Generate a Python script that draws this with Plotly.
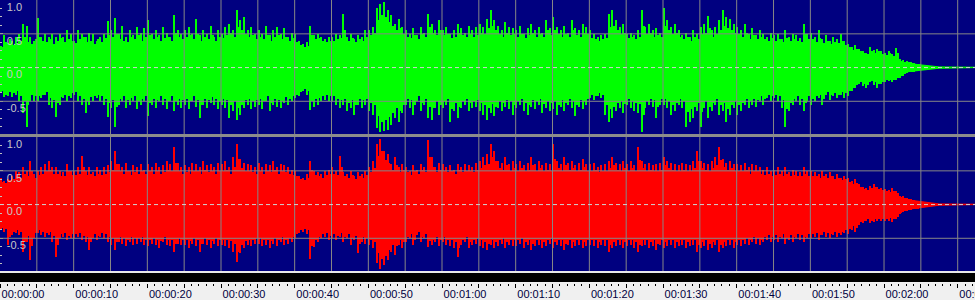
import numpy as np
import plotly.graph_objects as go

# ---------------- data ----------------
BIN_S = 0.5          # seconds per peak bin (each bin holds two spikes, A and B)
CORE_S = 5.0         # seconds per core (dense body) value
X_MAX_S = 132.35     # visible time span in seconds

# green (upper) channel: positive peaks, first half of each 0.5 s bin
G_POS = [
    0.32,0.48,0.36,0.40,0.45,0.50,0.65,0.62,0.45,0.40,
    0.74,0.45,0.50,0.45,0.50,0.45,0.50,0.45,0.56,0.50,
    0.40,0.55,0.50,0.45,0.52,0.50,0.40,0.45,0.50,0.69,
    0.55,0.74,0.50,0.62,0.45,0.55,0.48,0.60,0.52,0.58,
    0.70,0.50,0.55,0.48,0.60,0.52,0.45,0.78,0.55,0.50,
    0.55,0.60,0.50,0.72,0.48,0.55,0.50,0.62,0.45,0.55,
    0.50,0.60,0.65,0.55,0.85,0.70,0.75,0.55,0.60,0.50,
    0.55,0.50,0.62,0.48,0.55,0.60,0.50,0.58,0.45,0.52,
    0.50,0.40,0.35,0.38,0.62,0.48,0.50,0.45,0.42,0.45,
    0.45,0.50,0.48,0.79,0.45,0.50,0.42,0.48,0.45,0.55,
    0.55,0.60,0.88,0.94,0.97,0.85,0.78,0.65,0.72,0.60,
    0.55,0.50,0.58,0.48,0.60,0.52,0.80,0.65,0.55,0.70,
    0.55,0.60,0.50,0.55,0.65,0.58,0.52,0.62,0.55,0.60,
    0.65,0.60,0.72,0.85,0.70,0.62,0.55,0.68,0.60,0.58,
    0.55,0.62,0.50,0.58,0.65,0.55,0.60,0.52,0.70,0.58,
    0.75,0.60,0.55,0.62,0.52,0.70,0.58,0.55,0.65,0.60,
    0.55,0.50,0.45,0.48,0.50,0.80,0.85,0.70,0.60,0.65,
    0.50,0.52,0.48,0.55,0.86,0.60,0.65,0.55,0.58,0.52,
    0.88,0.70,0.60,0.65,0.55,0.48,0.52,0.45,0.55,0.50,
    0.60,0.65,0.76,0.55,0.60,0.70,0.86,0.75,0.72,0.65,
    0.60,0.55,0.65,0.50,0.58,0.48,0.55,0.50,0.45,0.52,
    0.48,0.50,0.42,0.55,0.45,0.50,0.48,0.44,0.65,0.50,
    0.52,0.45,0.55,0.42,0.48,0.40,0.45,0.42,0.50,0.40,
    0.35,0.30,0.34,0.28,0.25,0.22,0.30,0.26,0.28,0.24,
    0.22,0.25,0.20,0.29,0.12,0.11,0.10,0.08,0.07,0.06,
    0.04,0.03,0.02,0.01,0.005,0,0,0,0,0,
]
# green channel: positive peaks, second half of each bin
G_POS_B = [
    0.30,0.38,0.42,0.33,0.36,0.40,0.45,0.38,0.35,0.42,
    0.45,0.40,0.38,0.42,0.35,0.40,0.44,0.38,0.42,0.40,
    0.36,0.42,0.45,0.38,0.40,0.35,0.42,0.38,0.44,0.48,
    0.45,0.50,0.42,0.40,0.38,0.45,0.42,0.48,0.40,0.45,
    0.48,0.42,0.45,0.40,0.44,0.46,0.40,0.52,0.45,0.42,
    0.45,0.48,0.42,0.50,0.40,0.45,0.42,0.48,0.40,0.46,
    0.44,0.48,0.52,0.45,0.60,0.55,0.50,0.46,0.48,0.42,
    0.46,0.42,0.48,0.40,0.45,0.48,0.42,0.46,0.40,0.44,
    0.38,0.34,0.30,0.32,0.48,0.42,0.44,0.40,0.38,0.40,
    0.40,0.42,0.44,0.55,0.40,0.44,0.38,0.42,0.40,0.46,
    0.48,0.52,0.70,0.78,0.75,0.68,0.62,0.55,0.58,0.50,
    0.46,0.44,0.48,0.42,0.50,0.45,0.60,0.52,0.48,0.55,
    0.48,0.50,0.44,0.46,0.52,0.48,0.45,0.50,0.46,0.48,
    0.52,0.50,0.58,0.62,0.55,0.50,0.46,0.52,0.48,0.50,
    0.46,0.50,0.44,0.48,0.52,0.46,0.50,0.45,0.55,0.48,
    0.55,0.50,0.46,0.50,0.45,0.55,0.48,0.46,0.52,0.50,
    0.44,0.42,0.40,0.42,0.44,0.60,0.62,0.55,0.50,0.52,
    0.44,0.45,0.42,0.46,0.62,0.50,0.52,0.46,0.48,0.45,
    0.62,0.56,0.50,0.52,0.46,0.42,0.45,0.40,0.46,0.42,
    0.50,0.52,0.58,0.46,0.50,0.55,0.62,0.58,0.55,0.52,
    0.50,0.46,0.52,0.42,0.48,0.42,0.46,0.42,0.40,0.44,
    0.40,0.42,0.38,0.44,0.40,0.42,0.40,0.38,0.50,0.42,
    0.42,0.38,0.44,0.36,0.40,0.35,0.38,0.36,0.40,0.34,
    0.30,0.26,0.28,0.24,0.22,0.20,0.25,0.22,0.24,0.20,
    0.19,0.21,0.17,0.22,0.10,0.09,0.08,0.07,0.06,0.05,
    0.03,0.025,0.015,0.01,0.004,0,0,0,0,0,
]
# green channel: negative peaks (magnitude), first half of each bin
G_NEG = [
    0.38,0.44,0.42,0.44,0.40,0.50,0.68,0.88,0.50,0.49,
    0.50,0.45,0.40,0.55,0.60,0.73,0.55,0.45,0.50,0.45,
    0.40,0.50,0.55,0.68,0.55,0.50,0.45,0.50,0.55,0.73,
    0.60,0.88,0.55,0.50,0.60,0.55,0.50,0.62,0.55,0.50,
    0.72,0.55,0.60,0.50,0.55,0.62,0.50,0.65,0.55,0.60,
    0.55,0.62,0.50,0.58,0.75,0.55,0.60,0.52,0.55,0.62,
    0.55,0.60,0.75,0.65,0.78,0.70,0.60,0.55,0.62,0.58,
    0.55,0.62,0.50,0.65,0.55,0.58,0.60,0.52,0.55,0.50,
    0.45,0.42,0.35,0.40,0.63,0.58,0.55,0.50,0.48,0.50,
    0.50,0.55,0.60,0.55,0.65,0.60,0.70,0.55,0.60,0.55,
    0.65,0.70,0.90,0.95,0.94,0.92,0.85,0.75,0.80,0.68,
    0.55,0.60,0.70,0.50,0.65,0.55,0.75,0.78,0.60,0.70,
    0.60,0.55,0.80,0.65,0.75,0.60,0.55,0.65,0.60,0.58,
    0.65,0.70,0.78,0.68,0.72,0.60,0.65,0.58,0.62,0.70,
    0.60,0.55,0.65,0.70,0.58,0.62,0.55,0.68,0.60,0.65,
    0.62,0.70,0.58,0.65,0.55,0.60,0.72,0.58,0.62,0.55,
    0.45,0.48,0.42,0.45,0.70,0.80,0.75,0.65,0.60,0.68,
    0.55,0.60,0.65,0.68,0.95,0.60,0.55,0.58,0.75,0.55,
    0.55,0.60,0.70,0.65,0.55,0.60,0.88,0.80,0.75,0.65,
    0.88,0.60,0.75,0.65,0.55,0.70,0.65,0.80,0.70,0.60,
    0.70,0.65,0.55,0.60,0.55,0.58,0.50,0.55,0.45,0.50,
    0.45,0.50,0.60,0.88,0.65,0.55,0.50,0.55,0.65,0.50,
    0.55,0.50,0.45,0.55,0.40,0.48,0.42,0.45,0.40,0.45,
    0.42,0.35,0.30,0.25,0.28,0.30,0.22,0.26,0.30,0.24,
    0.22,0.20,0.22,0.18,0.16,0.12,0.08,0.07,0.06,0.05,
    0.04,0.03,0.02,0.01,0.005,0,0,0,0,0,
]
# green channel: negative peaks, second half of each bin
G_NEG_B = [
    0.34,0.40,0.36,0.38,0.35,0.42,0.50,0.55,0.40,0.42,
    0.42,0.40,0.36,0.45,0.48,0.52,0.44,0.40,0.42,0.38,
    0.36,0.42,0.46,0.50,0.44,0.42,0.40,0.42,0.46,0.52,
    0.48,0.58,0.46,0.42,0.48,0.45,0.42,0.50,0.46,0.42,
    0.52,0.46,0.48,0.42,0.46,0.50,0.42,0.50,0.46,0.48,
    0.46,0.50,0.42,0.48,0.55,0.46,0.48,0.44,0.46,0.50,
    0.46,0.48,0.56,0.50,0.60,0.55,0.48,0.46,0.50,0.48,
    0.46,0.50,0.42,0.52,0.46,0.48,0.50,0.44,0.46,0.42,
    0.40,0.36,0.32,0.35,0.50,0.46,0.45,0.42,0.40,0.42,
    0.42,0.46,0.48,0.46,0.52,0.48,0.55,0.46,0.48,0.46,
    0.52,0.56,0.72,0.80,0.78,0.74,0.68,0.60,0.64,0.55,
    0.46,0.48,0.56,0.42,0.52,0.46,0.58,0.60,0.50,0.56,
    0.50,0.46,0.62,0.52,0.58,0.50,0.46,0.52,0.50,0.48,
    0.52,0.56,0.60,0.54,0.58,0.50,0.52,0.48,0.50,0.56,
    0.50,0.46,0.52,0.56,0.48,0.50,0.46,0.54,0.50,0.52,
    0.50,0.56,0.48,0.52,0.46,0.50,0.56,0.48,0.50,0.46,
    0.40,0.42,0.38,0.40,0.56,0.62,0.58,0.52,0.50,0.54,
    0.46,0.50,0.52,0.54,0.70,0.50,0.46,0.48,0.58,0.46,
    0.46,0.50,0.56,0.52,0.46,0.50,0.66,0.62,0.58,0.52,
    0.66,0.50,0.58,0.52,0.46,0.56,0.52,0.62,0.56,0.50,
    0.56,0.52,0.46,0.50,0.46,0.48,0.42,0.46,0.40,0.42,
    0.40,0.42,0.48,0.62,0.52,0.46,0.42,0.46,0.52,0.42,
    0.46,0.42,0.40,0.46,0.36,0.40,0.38,0.40,0.36,0.38,
    0.34,0.30,0.26,0.22,0.24,0.26,0.20,0.22,0.25,0.21,
    0.19,0.18,0.19,0.16,0.13,0.10,0.07,0.06,0.05,0.04,
    0.03,0.025,0.015,0.01,0.004,0,0,0,0,0,
]
# red (lower) channel: positive peaks, first half of each bin
R_POS = [
    0.40,0.35,0.38,0.42,0.50,0.48,0.55,0.50,0.65,0.45,
    0.50,0.55,0.60,0.65,0.55,0.55,0.50,0.48,0.60,0.50,
    0.50,0.55,0.72,0.50,0.55,0.48,0.55,0.52,0.55,0.58,
    0.65,0.80,0.60,0.55,0.62,0.50,0.58,0.55,0.60,0.52,
    0.60,0.55,0.62,0.55,0.58,0.65,0.60,0.85,0.62,0.55,
    0.58,0.55,0.62,0.60,0.55,0.65,0.58,0.60,0.55,0.62,
    0.60,0.65,0.55,0.70,0.90,0.68,0.62,0.60,0.58,0.55,
    0.62,0.55,0.60,0.58,0.65,0.55,0.60,0.58,0.55,0.52,
    0.50,0.42,0.40,0.45,0.65,0.50,0.48,0.45,0.50,0.52,
    0.55,0.50,0.72,0.48,0.45,0.50,0.42,0.48,0.45,0.50,
    0.55,0.65,0.90,0.97,0.80,0.75,0.60,0.70,0.55,0.60,
    0.55,0.50,0.58,0.52,0.60,0.55,0.96,0.70,0.55,0.62,
    0.60,0.55,0.58,0.52,0.60,0.55,0.60,0.58,0.55,0.62,
    0.65,0.70,0.75,0.90,0.80,0.65,0.62,0.70,0.60,0.65,
    0.60,0.65,0.58,0.62,0.70,0.60,0.65,0.58,0.62,0.60,
    0.90,0.65,0.60,0.70,0.62,0.65,0.58,0.62,0.68,0.60,
    0.60,0.62,0.55,0.58,0.60,0.65,0.70,0.62,0.60,0.65,
    0.60,0.65,0.58,0.85,0.65,0.60,0.62,0.58,0.60,0.62,
    0.70,0.65,0.62,0.60,0.58,0.62,0.60,0.58,0.65,0.80,
    0.65,0.62,0.60,0.65,0.70,0.85,0.68,0.62,0.65,0.60,
    0.60,0.58,0.62,0.55,0.60,0.58,0.55,0.52,0.55,0.50,
    0.52,0.55,0.50,0.55,0.48,0.52,0.50,0.48,0.55,0.50,
    0.50,0.48,0.45,0.50,0.45,0.48,0.42,0.45,0.40,0.42,
    0.40,0.35,0.38,0.30,0.26,0.25,0.28,0.30,0.26,0.25,
    0.23,0.22,0.24,0.20,0.13,0.12,0.10,0.08,0.07,0.06,
    0.04,0.03,0.02,0.015,0.01,0,0,0,0,0,
]
# red channel: positive peaks, second half of each bin
R_POS_B = [
    0.34,0.32,0.36,0.38,0.42,0.40,0.46,0.42,0.50,0.40,
    0.44,0.46,0.50,0.52,0.46,0.46,0.42,0.42,0.50,0.44,
    0.44,0.46,0.56,0.44,0.46,0.42,0.46,0.44,0.46,0.48,
    0.52,0.60,0.50,0.46,0.50,0.44,0.48,0.46,0.50,0.45,
    0.50,0.46,0.50,0.46,0.48,0.52,0.50,0.62,0.50,0.46,
    0.48,0.46,0.50,0.50,0.46,0.52,0.48,0.50,0.46,0.50,
    0.50,0.52,0.46,0.56,0.68,0.54,0.50,0.50,0.48,0.46,
    0.50,0.46,0.50,0.48,0.52,0.46,0.50,0.48,0.46,0.44,
    0.42,0.38,0.36,0.40,0.52,0.44,0.42,0.40,0.44,0.45,
    0.46,0.44,0.56,0.42,0.40,0.44,0.38,0.42,0.40,0.44,
    0.48,0.54,0.72,0.80,0.66,0.62,0.52,0.58,0.48,0.52,
    0.48,0.44,0.50,0.46,0.52,0.48,0.70,0.56,0.48,0.52,
    0.50,0.48,0.50,0.46,0.52,0.48,0.50,0.50,0.48,0.52,
    0.54,0.58,0.60,0.70,0.64,0.54,0.52,0.58,0.50,0.54,
    0.50,0.54,0.50,0.52,0.58,0.50,0.54,0.50,0.52,0.50,
    0.68,0.54,0.50,0.58,0.52,0.54,0.50,0.52,0.56,0.50,
    0.50,0.52,0.48,0.50,0.50,0.54,0.58,0.52,0.50,0.54,
    0.50,0.54,0.50,0.66,0.54,0.50,0.52,0.50,0.50,0.52,
    0.58,0.54,0.52,0.50,0.50,0.52,0.50,0.50,0.54,0.64,
    0.54,0.52,0.50,0.54,0.58,0.66,0.56,0.52,0.54,0.50,
    0.50,0.50,0.52,0.46,0.50,0.50,0.46,0.44,0.46,0.42,
    0.44,0.46,0.42,0.46,0.42,0.44,0.42,0.42,0.46,0.42,
    0.42,0.42,0.40,0.42,0.40,0.42,0.38,0.40,0.36,0.38,
    0.34,0.30,0.32,0.26,0.23,0.22,0.24,0.26,0.23,0.22,
    0.20,0.19,0.20,0.17,0.11,0.10,0.08,0.07,0.06,0.05,
    0.03,0.025,0.015,0.012,0.008,0,0,0,0,0,
]
# red channel: negative peaks (magnitude), first half of each bin
R_NEG = [
    0.38,0.40,0.60,0.45,0.42,0.45,0.70,0.55,0.82,0.50,
    0.42,0.45,0.48,0.45,0.55,0.78,0.50,0.48,0.52,0.50,
    0.50,0.48,0.52,0.55,0.68,0.50,0.52,0.48,0.50,0.55,
    0.60,0.68,0.55,0.58,0.62,0.55,0.60,0.58,0.55,0.60,
    0.62,0.58,0.60,0.65,0.55,0.60,0.62,0.70,0.58,0.60,
    0.60,0.65,0.58,0.62,0.70,0.58,0.60,0.65,0.58,0.62,
    0.60,0.62,0.65,0.70,0.85,0.72,0.65,0.60,0.62,0.58,
    0.58,0.62,0.60,0.65,0.58,0.62,0.55,0.60,0.58,0.55,
    0.50,0.42,0.40,0.43,0.80,0.63,0.55,0.50,0.48,0.52,
    0.50,0.53,0.48,0.55,0.50,0.60,0.52,0.72,0.55,0.58,
    0.60,0.65,0.87,0.95,0.90,0.82,0.70,0.75,0.60,0.65,
    0.55,0.50,0.60,0.45,0.55,0.50,0.63,0.60,0.55,0.62,
    0.55,0.60,0.62,0.65,0.78,0.60,0.55,0.65,0.60,0.58,
    0.62,0.65,0.68,0.60,0.65,0.62,0.58,0.65,0.60,0.62,
    0.62,0.58,0.65,0.60,0.68,0.62,0.60,0.65,0.62,0.58,
    0.65,0.60,0.62,0.68,0.60,0.65,0.62,0.60,0.65,0.62,
    0.60,0.62,0.65,0.60,0.62,0.70,0.65,0.62,0.60,0.65,
    0.62,0.60,0.65,0.70,0.62,0.60,0.65,0.62,0.68,0.60,
    0.65,0.62,0.60,0.65,0.62,0.60,0.65,0.62,0.60,0.70,
    0.65,0.62,0.68,0.65,0.60,0.70,0.65,0.62,0.60,0.65,
    0.60,0.62,0.58,0.60,0.55,0.58,0.60,0.55,0.52,0.55,
    0.52,0.55,0.50,0.58,0.52,0.55,0.50,0.52,0.55,0.50,
    0.50,0.48,0.52,0.45,0.48,0.50,0.45,0.48,0.45,0.42,
    0.43,0.38,0.40,0.30,0.28,0.25,0.28,0.26,0.24,0.25,
    0.25,0.24,0.26,0.22,0.14,0.11,0.10,0.08,0.07,0.06,
    0.04,0.03,0.02,0.015,0.01,0,0,0,0,0,
]
# red channel: negative peaks, second half of each bin
R_NEG_B = [
    0.34,0.36,0.48,0.40,0.38,0.40,0.55,0.46,0.62,0.42,
    0.38,0.40,0.42,0.40,0.46,0.60,0.44,0.42,0.46,0.44,
    0.44,0.42,0.46,0.48,0.56,0.44,0.46,0.42,0.44,0.48,
    0.50,0.56,0.48,0.50,0.52,0.48,0.50,0.50,0.48,0.52,
    0.52,0.50,0.52,0.54,0.48,0.52,0.52,0.58,0.50,0.52,
    0.52,0.54,0.50,0.52,0.58,0.50,0.52,0.54,0.50,0.52,
    0.52,0.52,0.54,0.58,0.70,0.60,0.54,0.52,0.52,0.50,
    0.50,0.52,0.52,0.54,0.50,0.52,0.48,0.52,0.50,0.48,
    0.44,0.38,0.36,0.38,0.62,0.52,0.48,0.44,0.42,0.46,
    0.44,0.46,0.42,0.48,0.44,0.50,0.46,0.58,0.48,0.50,
    0.52,0.56,0.72,0.80,0.76,0.68,0.60,0.62,0.52,0.56,
    0.48,0.44,0.52,0.40,0.48,0.44,0.54,0.52,0.48,0.52,
    0.48,0.52,0.52,0.55,0.64,0.52,0.48,0.55,0.52,0.50,
    0.52,0.55,0.58,0.52,0.55,0.52,0.50,0.55,0.52,0.52,
    0.52,0.50,0.55,0.52,0.58,0.52,0.52,0.55,0.52,0.50,
    0.55,0.52,0.52,0.58,0.52,0.55,0.52,0.52,0.55,0.52,
    0.52,0.52,0.55,0.52,0.52,0.60,0.55,0.52,0.52,0.55,
    0.52,0.52,0.55,0.60,0.52,0.52,0.55,0.52,0.58,0.52,
    0.55,0.52,0.52,0.55,0.52,0.52,0.55,0.52,0.52,0.60,
    0.55,0.52,0.58,0.55,0.52,0.60,0.55,0.52,0.52,0.55,
    0.52,0.52,0.50,0.52,0.48,0.50,0.52,0.48,0.45,0.48,
    0.45,0.48,0.44,0.50,0.45,0.48,0.44,0.45,0.48,0.44,
    0.44,0.42,0.45,0.40,0.42,0.44,0.40,0.42,0.40,0.37,
    0.36,0.32,0.34,0.26,0.24,0.22,0.24,0.22,0.21,0.22,
    0.21,0.20,0.22,0.18,0.12,0.09,0.08,0.07,0.06,0.05,
    0.03,0.025,0.015,0.012,0.008,0,0,0,0,0,
]
# dense body (core) amplitude per 5 s block
G_CORE = [0.24,0.27,0.27,0.28,0.28,0.28,0.30,0.28,0.25,0.27,0.32,0.30,0.30,
          0.30,0.30,0.30,0.28,0.28,0.28,0.28,0.26,0.24,0.22,0.17,0.07,0.01,0,0]
R_CORE = [0.27,0.30,0.30,0.32,0.32,0.32,0.33,0.32,0.28,0.30,0.35,0.33,0.33,
          0.34,0.34,0.34,0.33,0.33,0.33,0.33,0.30,0.28,0.26,0.19,0.08,0.01,0,0]

Y_TICKS = [-0.5, 0.0, 0.5, 1.0]
Y_TICK_TEXT = ["-0.5", "0.0", "0.5", "1.0"]
GRID_STEP_S = 5
LABEL_STEP_S = 10

# ---------------- styling ----------------
NAVY = "#000080"
GREEN = "#00ff00"
RED = "#ff0000"
GRID = "#868686"
W, H = 975, 300
SPIKE_W = 0.17       # seconds, about 1.3 px

def py(p):  # pixel row -> paper y
    return 1 - p / H

fig = go.Figure()

def add_channel(pos_a, pos_b, neg_a, neg_b, core, color, xa, ya):
    core = np.array(core, float)
    tc = (np.arange(len(core)) + 0.5) * CORE_S
    tc = np.concatenate([[0], tc])
    core = np.concatenate([[core[0]], core])
    fig.add_trace(go.Scatter(
        x=np.concatenate([tc, tc[::-1]]),
        y=np.concatenate([core, -core[::-1]]),
        fill="toself", fillcolor=color, mode="lines",
        line=dict(color=color, width=1), xaxis=xa, yaxis=ya,
        hoverinfo="skip", showlegend=False))
    for pos, neg, off in ((pos_a, neg_a, 0.25), (pos_b, neg_b, 0.75)):
        pos = np.array(pos, float)
        neg = np.array(neg, float)
        t = (np.arange(len(pos)) + off) * BIN_S
        fig.add_trace(go.Bar(
            x=t, y=pos + neg, base=-neg, width=SPIKE_W,
            marker=dict(color=color, line=dict(width=0)),
            xaxis=xa, yaxis=ya, showlegend=False, hoverinfo="skip"))

add_channel(G_POS, G_POS_B, G_NEG, G_NEG_B, G_CORE, GREEN, "x", "y")
add_channel(R_POS, R_POS_B, R_NEG, R_NEG_B, R_CORE, RED, "x2", "y2")

YR = [-0.985, 1.002]
yax = dict(range=YR, showgrid=False, zeroline=False, fixedrange=True, automargin=False,
           tickvals=Y_TICKS, ticktext=Y_TICK_TEXT, ticks="inside", ticklen=3,
           tickcolor="#c0c0c0", ticklabelposition="inside", ticklabelshift=7,
           ticklabelstandoff=3, ticklabeloverflow="allow",
           tickfont=dict(family="Liberation Sans, Arial", size=11, color="#c8c8c8"),
           minor=dict(dtick=0.125, ticks="inside", ticklen=2, tickcolor="#c0c0c0"),
           showline=False)

tick_vals = list(range(0, int(X_MAX_S) + 1, GRID_STEP_S))
def fmt(s):
    return "%02d:%02d:%02d" % (s // 3600, (s // 60) % 60, s % 60)
tick_text = [fmt(s) if s % LABEL_STEP_S == 0 else "" for s in tick_vals]

fig.update_layout(
    width=W, height=H, margin=dict(l=0, r=0, t=0, b=0, autoexpand=False),
    paper_bgcolor="#f0f0f0", plot_bgcolor=NAVY, bargap=0, barmode="overlay",
    xaxis=dict(domain=[0, 1], range=[0, X_MAX_S], showgrid=False, zeroline=False,
               showticklabels=False, ticks="", anchor="y", automargin=False),
    yaxis=dict(domain=[py(134), 1], anchor="x", **yax),
    xaxis2=dict(domain=[0, 1], range=[0, X_MAX_S], showgrid=False, zeroline=False,
                anchor="free", position=py(283), tickvals=tick_vals, ticktext=tick_text,
                ticks="outside", ticklen=4, tickcolor="#000000", tickwidth=1,
                minor=dict(dtick=1, ticks="outside", ticklen=2, tickcolor="#000000"),
                ticklabelshift=23, ticklabelstandoff=-3, ticklabeloverflow="allow",
                automargin=False,
                tickfont=dict(family="Liberation Sans, Arial", size=11, color="#000040"),
                showline=False),
    yaxis2=dict(domain=[py(271), py(137)], anchor="x2", **yax),
)

shapes = []
for xr, yr in (("x", "y"), ("x2", "y2")):
    for s in tick_vals[1:]:
        shapes.append(dict(type="line", xref=xr, yref=yr + " domain", x0=s, x1=s,
                           y0=0, y1=1, line=dict(color=GRID, width=1), layer="above"))
    for v in (-0.5, 0.5):
        shapes.append(dict(type="line", xref=xr + " domain", yref=yr, x0=0, x1=1,
                           y0=v, y1=v, line=dict(color=GRID, width=1), layer="above"))
    shapes.append(dict(type="line", xref=xr + " domain", yref=yr, x0=0, x1=1,
                       y0=0, y1=0, line=dict(color="#d0d0d0", width=1, dash="4px,3px"),
                       layer="above"))
# separator between channels, and time ruler bars
shapes.append(dict(type="rect", xref="paper", yref="paper", x0=0, x1=1,
                   y0=py(137), y1=py(134), fillcolor="#8c8c8c", line=dict(width=0),
                   layer="above"))
shapes.append(dict(type="rect", xref="paper", yref="paper", x0=0, x1=1,
                   y0=py(273), y1=py(271), fillcolor="#e8e8e8", line=dict(width=0),
                   layer="above"))
shapes.append(dict(type="rect", xref="paper", yref="paper", x0=0, x1=1,
                   y0=py(282), y1=py(273), fillcolor="#000000", line=dict(width=0),
                   layer="above"))
fig.update_layout(shapes=shapes)

fig.write_html("out.html")
